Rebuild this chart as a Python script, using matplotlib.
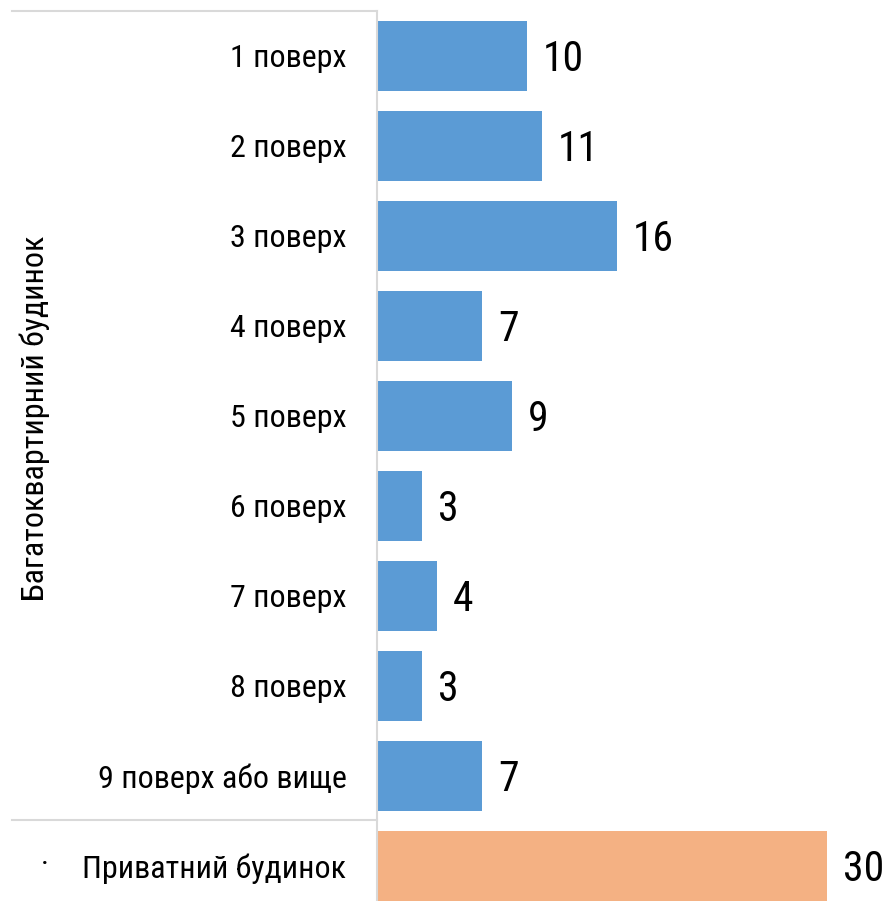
import matplotlib
matplotlib.use("Agg")
import matplotlib.pyplot as plt
from matplotlib import font_manager as fm
from matplotlib.lines import Line2D

categories = ["1 поверх", "2 поверх", "3 поверх", "4 поверх", "5 поверх",
              "6 поверх", "7 поверх", "8 поверх", "9 поверх або вище",
              "Приватний будинок"]
values = [10, 11, 16, 7, 9, 3, 4, 3, 7, 30]
groups = ["Багатоквартирний будинок"] * 9 + ["·"]
colors = ["#5B9BD5"] * 9 + ["#F4B183"]

available = {f.name for f in fm.fontManager.ttflist}
fam = None
for cand in ["Roboto Condensed", "Liberation Sans Narrow", "Roboto"]:
    if cand in available:
        fam = cand
        break
plt.rcParams['font.family'] = [fam, 'DejaVu Sans'] if fam else ['DejaVu Sans']

W, H = 891, 901
fig = plt.figure(figsize=(W / 100, H / 100), dpi=100)
ax_left = 377 / W
ax_top = 11
ax_height_px = 900
ax = fig.add_axes([ax_left, (H - ax_top - ax_height_px) / H,
                   (W - 377 - 4) / W, ax_height_px / H])

y = list(range(len(categories)))
ax.barh(y, values, height=0.78, color=colors)
ax.set_ylim(len(categories) - 0.5, -0.5)
ax.set_xlim(0, (W - 377 - 4) / 15)

for yi, v in zip(y, values):
    ax.annotate(str(v), (v, yi), xytext=(11.5, -2.5), textcoords="offset points",
                ha="left", va="center", fontsize=30, color="black")

ax.set_yticks(y)
ax.set_yticklabels(categories, fontsize=23)
ax.tick_params(axis="y", length=0, pad=22)
ax.set_xticks([])
for s in ["top", "right", "bottom"]:
    ax.spines[s].set_visible(False)
ax.spines["left"].set_color("#D9D9D9")
ax.spines["left"].set_linewidth(1.5)

def fx(px):
    return px / W

def fy(py):
    return 1 - py / H

fig.add_artist(Line2D([fx(12), fx(377)], [fy(11), fy(11)], color="#D9D9D9", lw=1.5))
fig.add_artist(Line2D([fx(12), fx(377)], [fy(820), fy(820)], color="#D9D9D9", lw=1.5))

fig.text(fx(35), fy(418), groups[0], rotation=90, ha="center", va="center", fontsize=23)
fig.text(fx(45), fy(865), groups[-1], ha="center", va="center", fontsize=23)

fig.savefig("out.png", dpi=100)
